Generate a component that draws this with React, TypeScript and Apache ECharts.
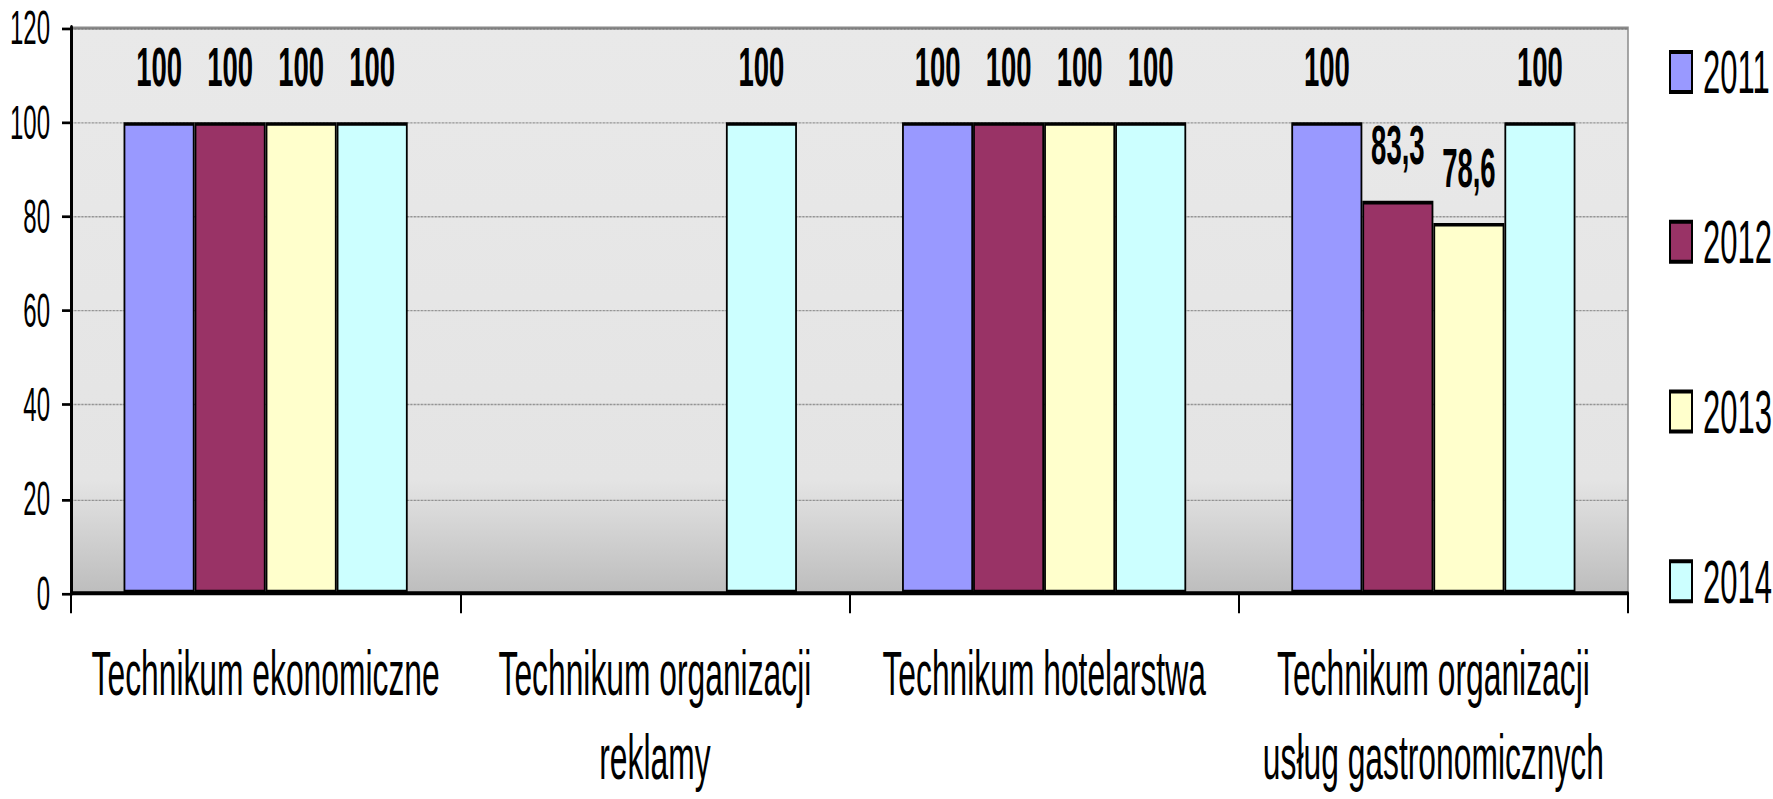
import React, { useEffect, useRef } from "react";
import * as echarts from "echarts";

const categories = [
  "Technikum ekonomiczne",
  "Technikum organizacji\nreklamy",
  "Technikum hotelarstwa",
  "Technikum organizacji\nusług gastronomicznych",
];
const years = ["2011", "2012", "2013", "2014"];
const values2011 = [100, null, 100, 100];
const values2012 = [100, null, 100, 83.3];
const values2013 = [100, null, 100, 78.6];
const values2014 = [100, 100, 100, 100];
const colors = ["#9999ff", "#993366", "#ffffcc", "#ccffff"];
const yTicks = { min: 0, max: 120, interval: 20 };

const W = 1773;
const H = 400;
const K = 799 / H;
const FONT = '"Liberation Sans", Arial, sans-serif';

export default function App() {
  const ref = useRef<HTMLDivElement>(null);
  useEffect(() => {
    if (!ref.current) return;
    const chart = echarts.init(ref.current, null, { renderer: "svg", width: W, height: H });
    const seriesValues = [values2011, values2012, values2013, values2014];
    chart.setOption({
      animation: false,
      backgroundColor: "#ffffff",
      textStyle: { fontFamily: FONT },
      grid: {
        left: 71,
        right: 145,
        top: 14,
        bottom: 100,
        show: true,
        borderColor: "#8a8a8a",
        borderWidth: 1.5,
        backgroundColor: {
          type: "linear",
          x: 0,
          y: 0,
          x2: 0,
          y2: 1,
          colorStops: [
            { offset: 0, color: "#e9e9e9" },
            { offset: 0.8, color: "#e4e4e4" },
            { offset: 1, color: "#bdbdbd" },
          ],
        },
      },
      legend: {
        orient: "vertical",
        left: 1664,
        top: 15.5,
        itemWidth: 22,
        itemHeight: 20,
        itemGap: 54,
        icon: "rect",
        data: years,
        textStyle: {
          fontFamily: FONT,
          fontSize: 31,
          lineHeight: 31,
          color: "#000",
          padding: [0, 0, 0, 6],
        },
      },
      xAxis: {
        type: "category",
        data: categories,
        axisLine: { show: true, lineStyle: { color: "#000", width: 2 } },
        axisTick: { show: true, length: 10, lineStyle: { color: "#000", width: 2 } },
        axisLabel: {
          interval: 0,
          margin: 19,
          fontFamily: FONT,
          fontSize: 31.8,
          lineHeight: 42,
          color: "#000",
        },
        splitLine: { show: false },
      },
      yAxis: {
        type: "value",
        min: yTicks.min,
        max: yTicks.max,
        interval: yTicks.interval,
        axisLine: { show: true, lineStyle: { color: "#000", width: 3 } },
        axisTick: { show: true, length: 9, lineStyle: { color: "#000", width: 1.35 } },
        axisLabel: { margin: 21, fontFamily: FONT, fontSize: 24, color: "#000" },
        splitLine: { show: true, lineStyle: { color: "#707070", type: "dotted", width: 0.7 } },
      },
      series: years.map((y, i) => ({
        name: y,
        type: "bar",
        data: seriesValues[i],
        barGap: "0%",
        barCategoryGap: "27%",
        itemStyle: { color: colors[i], borderColor: "#000", borderWidth: 1.8 },
        label: {
          show: true,
          position: "top",
          distance: 14,
          fontFamily: FONT,
          fontWeight: "bold",
          fontSize: 27.5,
          lineHeight: 27.5,
          color: "#000",
          formatter: (p: any) => String(p.value).replace(".", ","),
        },
      })),
    });
    return () => chart.dispose();
  }, []);
  return (
    <div style={{ position: "fixed", left: 0, top: 0, width: W, height: 799, background: "#fff", overflow: "hidden" }}>
      <div style={{ width: W, height: H, transform: `scaleY(${K})`, transformOrigin: "0 0" }}>
        <div ref={ref} style={{ width: W, height: H }} />
      </div>
    </div>
  );
}
